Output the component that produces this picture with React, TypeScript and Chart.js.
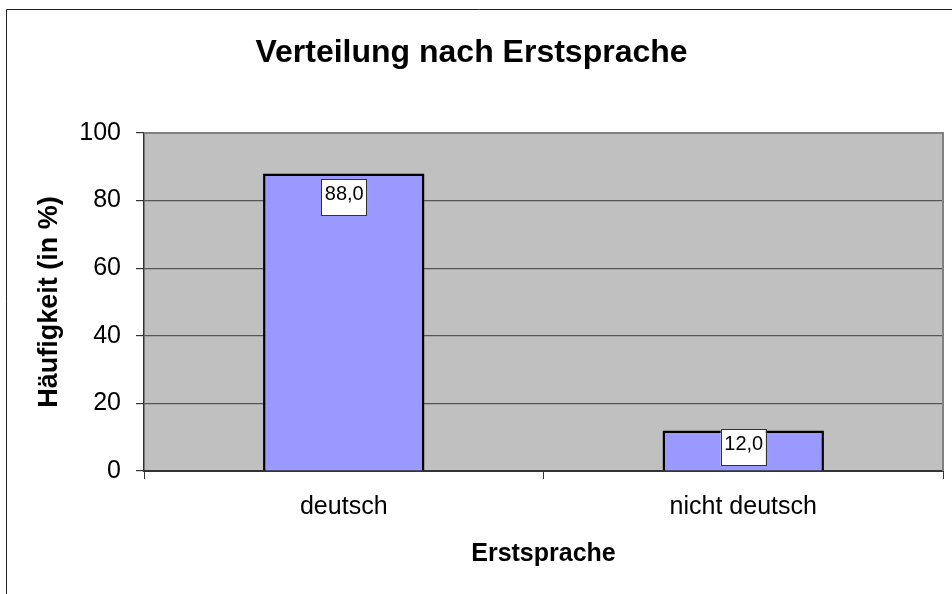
import React, { useEffect, useRef } from 'react';
import { Chart, registerables } from 'chart.js';

Chart.register(...registerables);

const categories = ['deutsch', 'nicht deutsch'];
const values = [88.0, 12.0];
const yMin = 0;
const yMax = 100;
const yStep = 20;
const chartTitle = 'Verteilung nach Erstsprache';
const yTitle = 'Häufigkeit (in %)';
const xTitle = 'Erstsprache';

const FONT = "'Liberation Sans', Arial, Helvetica, sans-serif";

export default function App() {
  const ref = useRef<HTMLCanvasElement>(null);

  useEffect(() => {
    const canvas = ref.current as HTMLCanvasElement;

    const decor = {
      id: 'decor',
      beforeDraw(chart: any) {
        const { ctx, chartArea: a, width, height } = chart;
        ctx.save();
        ctx.fillStyle = '#ffffff';
        ctx.fillRect(0, 0, width, height);
        ctx.fillStyle = '#C0C0C0';
        ctx.fillRect(a.left, a.top, a.right - a.left, a.bottom - a.top);
        ctx.strokeStyle = '#222222';
        ctx.lineWidth = 1;
        ctx.beginPath();
        ctx.moveTo(6.5, height);
        ctx.lineTo(6.5, 9.5);
        ctx.lineTo(width, 9.5);
        ctx.stroke();
        ctx.restore();
      },
      afterDatasetsDraw(chart: any) {
        const { ctx, chartArea: a } = chart;
        ctx.save();
        ctx.strokeStyle = '#808080';
        ctx.lineWidth = 2;
        ctx.beginPath();
        ctx.moveTo(a.left, a.top);
        ctx.lineTo(a.right, a.top);
        ctx.lineTo(a.right, a.bottom);
        ctx.stroke();

        const meta = chart.getDatasetMeta(0);
        meta.data.forEach((bar: any, i: number) => {
          const p = bar.getProps(['x', 'y', 'base'], true);
          const w = 45;
          const h = 36;
          const top = Math.min(p.y + 5.5, p.base - 5 - h);
          const left = p.x - w / 2;
          ctx.fillStyle = '#ffffff';
          ctx.fillRect(left, top, w, h);
          ctx.strokeStyle = '#333333';
          ctx.lineWidth = 1;
          ctx.strokeRect(Math.round(left) + 0.5, Math.round(top) + 0.5, w, h);
          ctx.fillStyle = '#000000';
          ctx.font = `20px ${FONT}`;
          ctx.textAlign = 'center';
          ctx.textBaseline = 'middle';
          ctx.fillText(values[i].toFixed(1).replace('.', ','), p.x + 0.5, top + 15);
        });
        ctx.restore();
      },
    };

    const chart = new Chart(canvas, {
      type: 'bar',
      data: {
        labels: categories,
        datasets: [
          {
            data: values,
            backgroundColor: '#9999FF',
            borderColor: '#000000',
            borderWidth: 2.5,
            barPercentage: 0.404,
            categoryPercentage: 1,
          },
        ],
      },
      plugins: [decor],
      options: {
        responsive: false,
        animation: false,
        devicePixelRatio: 1,
        events: [],
        layout: { padding: { left: 0, right: 9, top: 0, bottom: 0 } },
        plugins: {
          legend: { display: false },
          tooltip: { enabled: false },
          title: {
            display: true,
            text: chartTitle,
            color: '#000000',
            font: { family: FONT, size: 32, weight: 'bold' },
            padding: { top: 34, bottom: 60.6 },
          },
        },
        scales: {
          x: {
            type: 'category',
            offset: true,
            grid: {
              display: true,
              offset: true,
              drawOnChartArea: false,
              drawTicks: true,
              tickLength: 8,
              color: '#333333',
              tickColor: '#333333',
            },
            border: { display: true, color: '#333333', width: 2 },
            ticks: {
              color: '#000000',
              font: { family: FONT, size: 25 },
              padding: 13,
              maxRotation: 0,
              autoSkip: false,
            },
            title: {
              display: true,
              text: xTitle,
              color: '#000000',
              font: { family: FONT, size: 25, weight: 'bold' },
              padding: { top: 0, bottom: 25 },
            },
            afterFit(s: any) {
              s.height = 123;
            },
          },
          y: {
            min: yMin,
            max: yMax,
            grid: {
              color: '#555555',
              lineWidth: 1.2,
              drawTicks: true,
              tickLength: 8,
              tickColor: '#333333',
            },
            border: { display: true, color: '#333333', width: 1.5 },
            ticks: {
              stepSize: yStep,
              color: '#000000',
              font: { family: FONT, size: 25 },
              padding: 15,
            },
            title: {
              display: true,
              text: yTitle,
              color: '#000000',
              font: { family: FONT, size: 27, weight: 'bold' },
              padding: { top: 33, bottom: 0 },
            },
            afterFit(s: any) {
              s.width = 144;
            },
          },
        },
      },
    } as any);

    return () => {
      chart.destroy();
    };
  }, []);

  return (
    <div style={{ position: 'absolute', left: 0, top: 0, width: 952, height: 594 }}>
      <canvas ref={ref} width={952} height={594} style={{ display: 'block', width: 952, height: 594 }} />
    </div>
  );
}
